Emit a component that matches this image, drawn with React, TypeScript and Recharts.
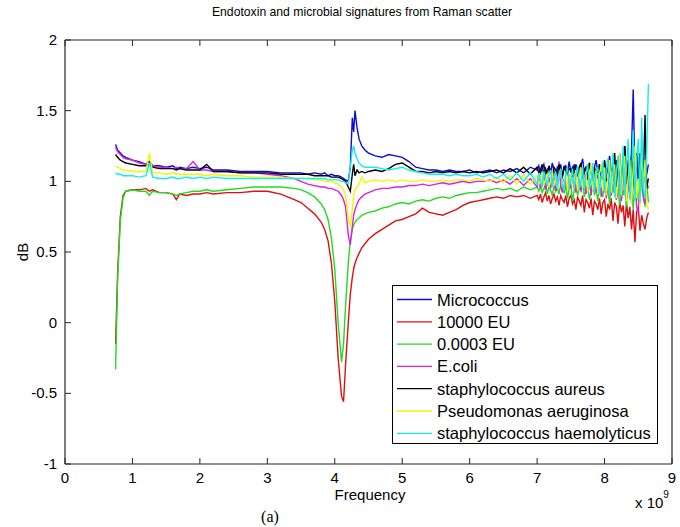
import React from 'react';
import { LineChart, Line, XAxis, YAxis, Legend } from 'recharts';

// Frequency grid (x 10^9)
const freq = [
  0.75, 0.78, 0.82, 0.86, 0.9, 1.0, 1.1, 1.2, 1.25, 1.3, 1.4, 1.5, 1.6, 1.65, 1.7, 1.8, 1.9,
  2.0, 2.1, 2.2, 2.4, 2.6, 2.8, 3.0, 3.2, 3.4, 3.5, 3.6, 3.7, 3.8, 3.85, 3.9, 3.95,
  4.0, 4.05, 4.1, 4.13, 4.16, 4.2, 4.23, 4.26, 4.28, 4.3, 4.33, 4.36, 4.4, 4.45,
  4.5, 4.6, 4.7, 4.8, 4.9, 5.0, 5.1, 5.2, 5.3, 5.4, 5.5, 5.6, 5.7, 5.8, 5.9, 6.0, 6.1, 6.2, 6.3, 6.4, 6.5, 6.6, 6.7, 6.8, 6.9,
  7.0, 7.025, 7.05, 7.075, 7.1, 7.125, 7.15, 7.175, 7.2, 7.225, 7.25, 7.275, 7.3, 7.325, 7.35, 7.375, 7.4, 7.425, 7.45, 7.475,
  7.5, 7.525, 7.55, 7.575, 7.6, 7.625, 7.65, 7.675, 7.7, 7.725, 7.75, 7.775, 7.8, 7.825, 7.85, 7.875, 7.9, 7.925, 7.95, 7.975,
  8.0, 8.025, 8.05, 8.075, 8.1, 8.125, 8.15, 8.175, 8.2, 8.225, 8.25, 8.275, 8.3, 8.325, 8.35, 8.375, 8.4, 8.425, 8.45, 8.475,
  8.5, 8.525, 8.55, 8.575, 8.6, 8.625, 8.65,
];

const micrococcus = [
  1.26, 1.22, 1.2, 1.18, 1.17, 1.15, 1.14, 1.12, 1.14, 1.11, 1.11, 1.10, 1.11, 1.09, 1.10, 1.09, 1.10,
  1.09, 1.10, 1.08, 1.08, 1.07, 1.07, 1.07, 1.06, 1.06, 1.06, 1.05, 1.06, 1.05, 1.06, 1.04, 1.05,
  1.04, 1.04, 1.03, 1.02, 1.01, 1.0, 1.1, 1.45, 1.35, 1.5, 1.38, 1.3, 1.25, 1.22,
  1.2, 1.18, 1.17, 1.19, 1.18, 1.17, 1.14, 1.1, 1.09, 1.08, 1.08, 1.07, 1.08, 1.07, 1.07, 1.08, 1.06, 1.07, 1.08, 1.06, 1.08, 1.07, 1.09, 1.06, 1.1,
  1.08, 1.11, 1.06, 1.09, 1.12, 1.05, 1.08, 1.1, 1.06, 1.13, 1.07, 1.05, 1.1, 1.08, 1.12, 1.04, 1.09, 1.11, 1.06, 1.14,
  1.07, 1.1, 1.05, 1.12, 1.08, 1.04, 1.11, 1.16, 1.06, 1.09, 1.05, 1.13, 1.08, 1.03, 1.1, 1.15, 1.06, 1.12, 1.04, 1.09,
  1.14, 1.03, 1.1, 1.18, 1.05, 1.12, 1.0, 1.15, 1.08, 1.2, 1.02, 1.1, 1.25, 1.04, 1.15, 0.98, 1.22, 1.65, 1.05, 1.18,
  1.0, 1.2, 1.1, 0.96, 1.15, 1.05, 1.12,
];

const eu10000 = [
  -0.15, 0.35, 0.75, 0.9, 0.93, 0.94, 0.94, 0.95, 0.93, 0.94, 0.92, 0.92, 0.91, 0.87, 0.91, 0.9, 0.91,
  0.91, 0.92, 0.91, 0.92, 0.92, 0.93, 0.93, 0.91, 0.87, 0.85, 0.81, 0.77, 0.71, 0.66, 0.58, 0.42,
  0.15, -0.25, -0.52, -0.56, -0.3, 0.0, 0.2, 0.32, 0.38, 0.42, 0.46, 0.49, 0.53, 0.56,
  0.59, 0.63, 0.66, 0.69, 0.72, 0.73, 0.75, 0.77, 0.81, 0.78, 0.77, 0.76, 0.78, 0.8, 0.83, 0.85, 0.86, 0.87, 0.88, 0.89, 0.88, 0.9, 0.89, 0.9, 0.88,
  0.9, 0.87, 0.91, 0.85, 0.89, 0.92, 0.86, 0.9, 0.84, 0.88, 0.91, 0.86, 0.89, 0.83, 0.9, 0.87, 0.85, 0.9, 0.82, 0.88,
  0.9, 0.84, 0.87, 0.8, 0.89, 0.86, 0.83, 0.9, 0.78, 0.87, 0.85, 0.81, 0.88, 0.76, 0.86, 0.84, 0.8, 0.88, 0.77, 0.85,
  0.87, 0.75, 0.84, 0.8, 0.88, 0.72, 0.85, 0.82, 0.7, 0.86, 0.78, 0.83, 0.68, 0.85, 0.74, 0.82, 0.66, 0.8, 0.57, 0.78,
  0.82, 0.65, 0.76, 0.7, 0.66, 0.74, 0.78,
];

const eu00003 = [
  -0.33, 0.3, 0.72, 0.88, 0.93, 0.94, 0.93, 0.93, 0.9, 0.93, 0.92, 0.92, 0.91, 0.9, 0.91, 0.92, 0.93,
  0.93, 0.94, 0.93, 0.94, 0.95, 0.96, 0.96, 0.96, 0.95, 0.94, 0.92, 0.89, 0.84, 0.8, 0.73, 0.6,
  0.38, 0.0, -0.28, -0.15, 0.12, 0.42, 0.58, 0.66, 0.69, 0.71, 0.73, 0.74, 0.76, 0.77,
  0.78, 0.79, 0.81, 0.82, 0.84, 0.85, 0.84, 0.86, 0.87, 0.86, 0.88, 0.89, 0.88, 0.9, 0.91, 0.92, 0.92, 0.93, 0.94, 0.95, 0.94, 0.95, 0.93, 0.96, 0.94,
  0.96, 0.93, 0.97, 0.92, 0.95, 0.98, 0.91, 0.96, 0.94, 0.9, 0.97, 0.93, 0.96, 0.91, 0.98, 0.94, 0.92, 0.97, 0.88, 0.95,
  0.97, 0.86, 0.94, 0.98, 0.9, 0.96, 0.93, 0.99, 0.89, 0.95, 0.97, 0.87, 0.94, 1.0, 0.9, 0.96, 0.86, 0.98, 0.93, 0.89,
  0.99, 0.9, 0.95, 0.84, 0.98, 0.92, 1.02, 0.87, 0.95, 0.83, 1.0, 0.9, 0.96, 0.82, 1.04, 0.88, 0.94, 0.8, 1.0, 0.86,
  0.95, 0.84, 1.02, 0.9, 0.82, 1.0, 0.85,
];

const ecoli = [
  1.24, 1.21, 1.19, 1.17, 1.16, 1.15, 1.13, 1.12, 1.12, 1.11, 1.10, 1.10, 1.09, 1.1, 1.09, 1.09, 1.14,
  1.08, 1.08, 1.07, 1.07, 1.06, 1.06, 1.05, 1.04, 1.02, 1.0, 0.98, 0.97, 0.96, 0.96, 0.95, 0.95,
  0.94, 0.93, 0.9, 0.87, 0.82, 0.62, 0.55, 0.68, 0.76, 0.8, 0.84, 0.87, 0.89, 0.91,
  0.92, 0.94, 0.95, 0.95, 0.96, 0.96, 0.97, 0.97, 0.98, 0.97, 0.98, 0.99, 0.98, 0.99, 1.0, 0.99, 1.0, 1.0, 1.01, 0.99, 1.01, 0.98, 1.02, 0.97, 1.02,
  0.96, 1.02, 0.95, 0.99, 1.04, 0.94, 0.98, 1.03, 0.95, 1.0, 1.06, 0.93, 0.97, 1.14, 0.96, 0.92, 1.02, 0.98, 0.94, 1.05,
  0.95, 0.99, 1.06, 0.92, 0.97, 1.03, 0.93, 0.98, 1.08, 0.91, 0.96, 1.04, 0.9, 0.99, 1.06, 0.92, 0.95, 1.1, 0.89, 0.98,
  1.05, 0.88, 0.96, 1.12, 0.9, 0.99, 1.15, 0.87, 0.95, 1.08, 0.86, 0.98, 1.2, 0.88, 0.94, 1.1, 0.85, 1.0, 1.08, 0.82,
  0.78, 1.05, 1.12, 0.88, 0.84, 1.0, 0.95,
];

const staphAureus = [
  1.19, 1.17, 1.15, 1.14, 1.13, 1.12, 1.11, 1.11, 1.12, 1.1, 1.09, 1.09, 1.09, 1.08, 1.09, 1.08, 1.08,
  1.08, 1.12, 1.07, 1.07, 1.06, 1.06, 1.06, 1.05, 1.05, 1.05, 1.05, 1.04, 1.04, 1.04, 1.04, 1.03,
  1.03, 1.03, 1.02, 1.01, 1.0, 0.96, 0.93, 1.05, 1.12, 1.04, 1.08, 1.06, 1.07, 1.06,
  1.07, 1.08, 1.07, 1.09, 1.12, 1.13, 1.1, 1.07, 1.07, 1.06, 1.07, 1.06, 1.07, 1.06, 1.07, 1.06, 1.07, 1.06, 1.07, 1.08, 1.06, 1.09, 1.06, 1.1, 1.05,
  1.1, 1.06, 1.08, 1.12, 1.04, 1.09, 1.05, 1.11, 1.07, 1.03, 1.1, 1.08, 1.05, 1.12, 1.06, 1.03, 1.11, 1.07, 1.05, 1.09,
  1.08, 1.03, 1.12, 1.06, 1.04, 1.1, 1.13, 1.02, 1.08, 1.1, 1.01, 1.13, 1.06, 1.0, 1.1, 1.05, 1.02, 1.12, 1.04, 1.0,
  1.15, 1.02, 0.98, 1.12, 1.06, 1.0, 1.2, 0.96, 1.1, 1.15, 0.95, 1.05, 1.25, 0.98, 1.12, 0.93, 1.18, 1.05, 0.92, 1.2,
  1.1, 0.9, 1.2, 1.0, 1.47, 0.95, 1.02,
];

const pseudomonas = [
  1.11, 1.1, 1.09, 1.08, 1.08, 1.07, 1.07, 1.07, 1.2, 1.06, 1.06, 1.05, 1.06, 1.05, 1.05, 1.05, 1.05,
  1.05, 1.04, 1.05, 1.04, 1.04, 1.03, 1.03, 1.03, 1.02, 1.02, 1.02, 1.01, 1.01, 1.0, 1.0, 1.0,
  0.99, 0.98, 0.96, 0.94, 0.9, 0.74, 0.68, 0.8, 0.9, 0.94, 0.96, 0.98, 1.03, 0.99,
  1.0, 1.01, 1.0, 1.01, 1.0, 1.01, 1.0, 1.0, 1.01, 1.0, 1.0, 1.01, 1.0, 1.01, 1.01, 1.0, 1.02, 1.01, 1.0, 1.03, 0.99, 1.04, 0.98, 1.05, 0.98,
  1.04, 0.98, 1.01, 1.06, 0.97, 1.02, 1.05, 0.96, 1.0, 1.07, 0.97, 1.03, 0.95, 1.05, 1.08, 0.96, 1.0, 1.06, 0.94, 1.02,
  1.06, 0.95, 1.0, 1.08, 0.93, 1.03, 1.1, 0.95, 0.99, 1.07, 0.92, 1.04, 1.12, 0.94, 1.0, 1.08, 0.91, 1.05, 1.12, 0.93,
  1.1, 0.9, 1.02, 1.15, 0.92, 1.05, 1.12, 0.88, 1.0, 1.2, 0.9, 1.06, 1.18, 0.86, 1.02, 1.15, 0.84, 1.08, 1.25, 0.88,
  1.02, 0.82, 1.25, 0.95, 1.15, 0.84, 0.8,
];

const staphHaemolyticus = [
  1.06, 1.05, 1.05, 1.04, 1.04, 1.04, 1.03, 1.04, 1.13, 1.03, 1.02, 1.02, 1.03, 1.02, 1.02, 1.03, 1.02,
  1.03, 1.02, 1.03, 1.02, 1.02, 1.02, 1.02, 1.02, 1.02, 1.02, 1.02, 1.02, 1.02, 1.02, 1.01, 1.01,
  1.01, 1.01, 1.0, 1.0, 0.99, 0.98, 1.1, 1.22, 1.25, 1.2, 1.16, 1.13, 1.11, 1.1,
  1.1, 1.1, 1.09, 1.08, 1.09, 1.1, 1.08, 1.07, 1.06, 1.05, 1.05, 1.05, 1.04, 1.05, 1.04, 1.04, 1.05, 1.03, 1.05, 1.02, 1.05, 1.01, 1.06, 1.0, 1.06,
  0.98, 1.06, 1.01, 0.96, 1.07, 1.03, 0.97, 1.05, 1.08, 0.96, 1.02, 1.07, 0.95, 1.04, 1.09, 0.97, 0.94, 1.06, 1.1, 0.96,
  1.01, 1.09, 0.94, 1.04, 1.11, 0.95, 0.99, 1.1, 0.93, 1.05, 1.12, 0.94, 1.0, 1.13, 0.92, 1.06, 1.1, 0.91, 1.03, 1.14,
  0.92, 1.08, 1.16, 0.9, 1.02, 1.2, 0.89, 1.05, 1.18, 0.88, 1.0, 1.25, 0.9, 1.1, 1.3, 0.87, 1.05, 1.36, 0.86, 1.15,
  1.3, 0.85, 1.45, 0.95, 0.88, 1.2, 1.69,
];

const seriesNames = [
  'Micrococcus',
  '10000 EU',
  '0.0003 EU',
  'E.coli',
  'staphylococcus aureus',
  'Pseudomonas aeruginosa',
  'staphylococcus haemolyticus',
];

const xTicks = [0, 1, 2, 3, 4, 5, 6, 7, 8, 9];
const yTicks = [-1, -0.5, 0, 0.5, 1, 1.5, 2];

const seriesDefs = [
  { key: 'micrococcus', name: seriesNames[0], color: '#0c0cd6', values: micrococcus },
  { key: 'eu10000', name: seriesNames[1], color: '#dc1010', values: eu10000 },
  { key: 'eu00003', name: seriesNames[2], color: '#20dc20', values: eu00003 },
  { key: 'ecoli', name: seriesNames[3], color: '#dc20dc', values: ecoli },
  { key: 'staphAureus', name: seriesNames[4], color: '#000000', values: staphAureus },
  { key: 'pseudomonas', name: seriesNames[5], color: '#f4f400', values: pseudomonas },
  { key: 'staphHaemolyticus', name: seriesNames[6], color: '#12eeee', values: staphHaemolyticus },
];

const data = freq.map((f, i) => {
  const row: any = { f };
  seriesDefs.forEach((s) => {
    row[s.key] = s.values[i];
  });
  return row;
});

const FONT = '"Liberation Sans", Arial, Helvetica, sans-serif';
const AXIS = '#262626';
const TICK = 6;

const BottomTick = (p: any) => (
  <g>
    <line x1={p.x} x2={p.x} y1={p.y} y2={p.y - TICK} stroke={AXIS} strokeWidth={1} />
    <text x={p.x} y={p.y + 19} textAnchor="middle" fontSize={15} fontFamily={FONT} fill="#000">
      {p.payload.value}
    </text>
  </g>
);

const TopTick = (p: any) => (
  <line x1={p.x} x2={p.x} y1={p.y} y2={p.y + TICK} stroke={AXIS} strokeWidth={1} />
);

const LeftTick = (p: any) => (
  <g>
    <line x1={p.x} x2={p.x + TICK} y1={p.y} y2={p.y} stroke={AXIS} strokeWidth={1} />
    <text x={p.x - 8} y={p.y + 5} textAnchor="end" fontSize={15} fontFamily={FONT} fill="#000">
      {p.payload.value}
    </text>
  </g>
);

const RightTick = (p: any) => (
  <line x1={p.x} x2={p.x - TICK} y1={p.y} y2={p.y} stroke={AXIS} strokeWidth={1} />
);

const LegendBox = (props: any) => {
  const items = [...(props.payload || [])].sort(
    (a: any, b: any) => seriesNames.indexOf(a.value) - seriesNames.indexOf(b.value)
  );
  return (
    <svg width={267} height={160} style={{ display: 'block' }}>
      <rect x={0.5} y={0.5} width={265} height={158} fill="#fff" stroke="#000" strokeWidth={1} />
      {items.map((it: any, i: number) => {
        const cy = 14.5 + i * 22.3;
        return (
          <g key={i}>
            <line x1={5} x2={40} y1={cy} y2={cy} stroke={it.color} strokeWidth={1.3} />
            <text x={45} y={cy + 6} fontSize={16.5} fontFamily={FONT} fill="#000">
              {it.value}
            </text>
          </g>
        );
      })}
    </svg>
  );
};

export default function App() {
  return (
    <div style={{ position: 'absolute', left: 0, top: 0, width: 680, height: 527, background: '#fff' }}>
      <LineChart
        width={680}
        height={527}
        data={data}
        margin={{ top: 30, right: 0, bottom: 0, left: 0 }}
      >
        <XAxis
          type="number"
          dataKey="f"
          domain={[0, 9]}
          ticks={xTicks}
          interval={0}
          height={63}
          tickSize={0}
          tickMargin={0}
          tick={BottomTick}
          axisLine={{ stroke: AXIS, strokeWidth: 1.2 }}
          tickLine={false}
        />
        <XAxis
          xAxisId="top"
          orientation="top"
          type="number"
          dataKey="f"
          domain={[0, 9]}
          ticks={xTicks}
          interval={0}
          height={10}
          tickSize={0}
          tickMargin={0}
          tick={TopTick}
          axisLine={{ stroke: AXIS, strokeWidth: 1.2 }}
          tickLine={false}
        />
        <YAxis
          type="number"
          domain={[-1, 2]}
          ticks={yTicks}
          interval={0}
          width={65}
          tickSize={0}
          tickMargin={0}
          tick={LeftTick}
          axisLine={{ stroke: AXIS, strokeWidth: 1.2 }}
          tickLine={false}
        />
        <YAxis
          yAxisId="right"
          orientation="right"
          type="number"
          domain={[-1, 2]}
          ticks={yTicks}
          interval={0}
          width={8}
          tickSize={0}
          tickMargin={0}
          tick={RightTick}
          axisLine={{ stroke: AXIS, strokeWidth: 1.2 }}
          tickLine={false}
        />
        {seriesDefs.map((s) => (
          <Line
            key={s.key}
            type="linear"
            dataKey={s.key}
            name={s.name}
            stroke={s.color}
            strokeWidth={1.4}
            dot={false}
            activeDot={false}
            isAnimationActive={false}
          />
        ))}
        <Legend
          layout="vertical"
          align="center"
          verticalAlign="middle"
          content={LegendBox}
          wrapperStyle={{ left: 392, top: 285, width: 267, height: 160 }}
        />
      </LineChart>
      <svg
        width={680}
        height={527}
        style={{ position: 'absolute', left: 0, top: 0, pointerEvents: 'none' }}
      >
        <text x={362} y={16} textAnchor="middle" fontSize={12.2} fontFamily={FONT} fill="#000">
          Endotoxin and microbial signatures from Raman scatter
        </text>
        <text x={370} y={500} textAnchor="middle" fontSize={15} fontFamily={FONT} fill="#000">
          Frequency
        </text>
        <text x={635} y={508} fontSize={15} fontFamily={FONT} fill="#000">
          x 10
          <tspan dy={-10} fontSize={10}>9</tspan>
        </text>
        <text transform="translate(28,252) rotate(-90)" textAnchor="middle" fontSize={15} fontFamily={FONT} fill="#000">
          dB
        </text>
        <text x={270} y={522} textAnchor="middle" fontSize={16} fontFamily='"Liberation Serif", "Times New Roman", serif' fill="#000">
          (a)
        </text>
      </svg>
    </div>
  );
}
